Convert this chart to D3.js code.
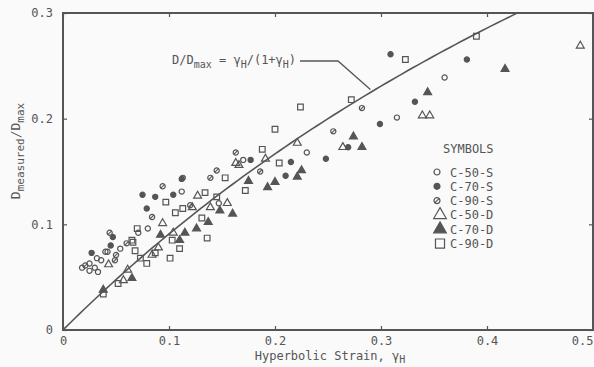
<!DOCTYPE html>
<html>
<head>
<meta charset="utf-8">
<script src="https://cdn.jsdelivr.net/npm/d3@7"></script>
<style>
  body { margin: 0; background: #fafafa; }
  text { font-family: "DejaVu Sans Mono", monospace; fill: #555; }
</style>
</head>
<body>
<svg id="chart" width="594" height="367"></svg>
<script>
// measured points [hyperbolic strain, D/Dmax]
const c50s = [[0.018,0.059],[0.025,0.063],[0.032,0.068],[0.025,0.056],[0.033,0.055],[0.040,0.074],
  [0.042,0.074],[0.054,0.077],[0.030,0.059],[0.071,0.092],[0.080,0.096],[0.112,0.131],[0.170,0.161],
  [0.230,0.168],[0.315,0.201],[0.360,0.239],[0.036,0.066],[0.147,0.120]];
const c70s = [[0.027,0.073],[0.047,0.088],[0.075,0.128],[0.087,0.126],[0.104,0.128],[0.079,0.115],
  [0.177,0.161],[0.215,0.159],[0.210,0.146],[0.248,0.162],[0.269,0.173],[0.299,0.195],[0.332,0.216],
  [0.309,0.261],[0.381,0.256],[0.112,0.143],[0.045,0.080]];
const c90s = [[0.021,0.061],[0.044,0.092],[0.050,0.071],[0.049,0.066],[0.094,0.136],[0.084,0.107],
  [0.113,0.144],[0.139,0.144],[0.145,0.151],[0.163,0.168],[0.255,0.188],[0.282,0.210],[0.060,0.082],
  [0.120,0.118],[0.186,0.150]];
const c50d = [[0.043,0.062],[0.061,0.057],[0.057,0.047],[0.084,0.071],[0.094,0.101],[0.122,0.116],
  [0.127,0.127],[0.139,0.116],[0.104,0.092],[0.166,0.156],[0.191,0.162],[0.163,0.158],[0.221,0.177],
  [0.264,0.173],[0.339,0.203],[0.346,0.203],[0.488,0.269],[0.090,0.078],[0.155,0.120]];
const c70d = [[0.038,0.038],[0.065,0.049],[0.092,0.090],[0.115,0.092],[0.126,0.096],[0.137,0.102],
  [0.148,0.113],[0.175,0.141],[0.193,0.135],[0.221,0.145],[0.225,0.151],[0.274,0.183],[0.282,0.173],
  [0.344,0.225],[0.417,0.247],[0.160,0.110],[0.200,0.140],[0.110,0.085]];
const c90d = [[0.038,0.034],[0.052,0.044],[0.065,0.085],[0.068,0.075],[0.073,0.068],[0.079,0.063],
  [0.066,0.083],[0.087,0.073],[0.101,0.068],[0.110,0.077],[0.103,0.085],[0.136,0.087],[0.131,0.106],
  [0.113,0.115],[0.106,0.111],[0.097,0.121],[0.134,0.130],[0.145,0.126],[0.153,0.144],[0.172,0.132],
  [0.188,0.171],[0.204,0.158],[0.200,0.190],[0.224,0.211],[0.272,0.218],[0.323,0.256],[0.390,0.278],
  [0.070,0.096]];

const seriesNames = ['C-50-S', 'C-70-S', 'C-90-S', 'C-50-D', 'C-70-D', 'C-90-D'];
const seriesData = [c50s, c70s, c90s, c50d, c70d, c90d];
const seriesMarks = ['circle', 'dot', 'hatched', 'triangle', 'triangleFilled', 'square'];

const xTicks = [0, 0.1, 0.2, 0.3, 0.4, 0.5];
const yTicks = [0, 0.1, 0.2, 0.3];
const curveGamma = d3.range(0, 0.44, 0.005); // D/Dmax = gamma/(1+gamma)

const ink = '#555';

const svg = d3.select('#chart');
const x = d3.scaleLinear().domain([0, 0.5]).range([63, 593]);
const y = d3.scaleLinear().domain([0, 0.3]).range([330, 13]);
const fmt = d => d === 0 ? '0' : d3.format('.1f')(d);

// axes with inward ticks
const gx = svg.append('g').attr('transform', `translate(0,${y(0)})`)
  .call(d3.axisBottom(x).tickValues(xTicks).tickFormat(fmt).tickSizeInner(-4).tickSizeOuter(0).tickPadding(6));
gx.selectAll('.tick text').filter(d => d === 0.5).attr('text-anchor', 'end');
svg.append('g').attr('transform', `translate(${x(0)},0)`)
  .call(d3.axisLeft(y).tickValues(yTicks).tickFormat(fmt).tickSizeInner(-4).tickSizeOuter(0).tickPadding(10));
svg.append('g').attr('transform', `translate(0,${y(0.3)})`)
  .call(d3.axisTop(x).tickValues(xTicks).tickFormat('').tickSizeInner(-4).tickSizeOuter(0));
svg.append('g').attr('transform', `translate(${x(0.5)},0)`)
  .call(d3.axisRight(y).tickValues(yTicks).tickFormat('').tickSizeInner(-4).tickSizeOuter(0));
svg.selectAll('.domain').remove();
svg.selectAll('.tick line').attr('stroke', ink).attr('stroke-width', 1.2);
svg.selectAll('.tick text').style('font-size', '12px').attr('fill', ink);

svg.append('rect')
  .attr('x', x(0)).attr('y', y(0.3))
  .attr('width', x(0.5) - x(0)).attr('height', y(0) - y(0.3))
  .attr('fill', 'none').attr('stroke', ink).attr('stroke-width', 2);

// theoretical curve
svg.append('clipPath').attr('id', 'plot')
  .append('rect').attr('x', x(0)).attr('y', y(0.3)).attr('width', x(0.5) - x(0)).attr('height', y(0) - y(0.3));
svg.append('path')
  .datum(curveGamma)
  .attr('clip-path', 'url(#plot)')
  .attr('fill', 'none').attr('stroke', ink).attr('stroke-width', 1.6)
  .attr('d', d3.line().x(g => x(g)).y(g => y(g / (1 + g))));

// markers
function drawMark(g, type, scale) {
  const k = scale || 1;
  if (type === 'circle' || type === 'dot' || type === 'hatched') {
    g.append('circle').attr('r', 2.6 * k)
      .attr('fill', type === 'dot' ? ink : 'none')
      .attr('stroke', ink).attr('stroke-width', 1.2);
    if (type === 'hatched') {
      g.append('line').attr('x1', -2 * k).attr('y1', 2 * k).attr('x2', 2 * k).attr('y2', -2 * k)
        .attr('stroke', ink).attr('stroke-width', 1.1);
    }
  } else {
    const sym = type === 'square' ? d3.symbolSquare : d3.symbolTriangle;
    const size = type === 'square' ? 32 : 27;
    g.append('path')
      .attr('d', d3.symbol().type(sym).size(size * k * k)())
      .attr('fill', type === 'triangleFilled' ? ink : 'none')
      .attr('stroke', ink).attr('stroke-width', 1.2);
  }
}

seriesData.forEach((data, i) => {
  svg.append('g').selectAll('g')
    .data(data)
    .join('g')
    .attr('transform', d => `translate(${x(d[0])},${y(d[1])})`)
    .each(function () { drawMark(d3.select(this), seriesMarks[i]); });
});

// legend
const legend = svg.append('g').attr('transform', 'translate(437,0)');
legend.append('text').attr('x', 6).attr('y', 153).style('font-size', '12px').text('SYMBOLS');
seriesNames.forEach((name, i) => {
  const cy = 172 + i * 14.3;
  const m = legend.append('g').attr('transform', `translate(${i < 3 ? 0 : 3},${cy})`);
  drawMark(m, seriesMarks[i], i < 3 ? 1.15 : 1.6);
  legend.append('text').attr('x', 13).attr('y', cy + 4.5).style('font-size', '12px').text(name);
});

// formula annotation
const ann = svg.append('text').attr('x', 172).attr('y', 64).style('font-size', '12px');
ann.append('tspan').text('D/D');
ann.append('tspan').attr('dy', 4).style('font-size', '10px').text('max');
ann.append('tspan').attr('dy', -4).text(' = γ');
ann.append('tspan').attr('dy', 4).style('font-size', '10px').text('H');
ann.append('tspan').attr('dy', -4).text('/(1+γ');
ann.append('tspan').attr('dy', 4).style('font-size', '10px').text('H');
ann.append('tspan').attr('dy', -4).text(')');
const tipG = 0.29;
svg.append('path')
  .attr('fill', 'none').attr('stroke', ink).attr('stroke-width', 1.3)
  .attr('d', d3.line()([[300, 61], [338, 61], [x(tipG), y(tipG / (1 + tipG)) - 3]]));

// axis titles
const xl = svg.append('text').attr('x', 330).attr('y', 360).attr('text-anchor', 'middle').style('font-size', '12px');
xl.append('tspan').text('Hyperbolic Strain, γ');
xl.append('tspan').attr('dy', 3).style('font-size', '10px').text('H');

const yl = svg.append('text').attr('transform', 'translate(20,151) rotate(-90)')
  .attr('text-anchor', 'middle').style('font-size', '13px');
yl.append('tspan').text('D');
yl.append('tspan').attr('dy', 4).style('font-size', '11px').text('measured');
yl.append('tspan').attr('dy', -4).text('/D');
yl.append('tspan').attr('dy', 4).style('font-size', '11px').text('max');
</script>
</body>
</html>
